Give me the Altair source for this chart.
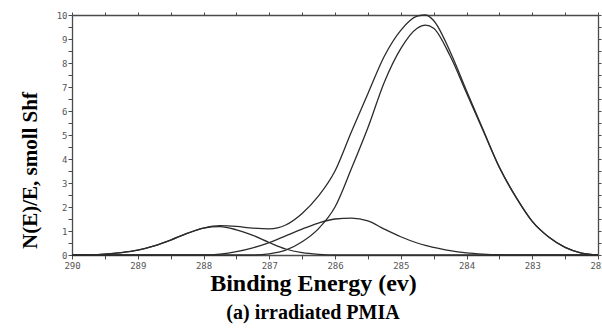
import altair as alt
import pandas as pd

# Binding energy grid (eV)
energy = [290.0, 289.75, 289.5, 289.25, 289.0, 288.75, 288.5, 288.25, 288.0, 287.75,
          287.5, 287.25, 287.0, 286.75, 286.5, 286.25, 286.0, 285.75, 285.5, 285.25,
          285.0, 284.75, 284.625, 284.5, 284.25, 284.0, 283.75, 283.5, 283.25, 283.0,
          282.75, 282.5, 282.25, 282.0]

# component near 288 eV
comp1 = [0.0, 0.01, 0.04, 0.1, 0.2, 0.38, 0.62, 0.9, 1.12, 1.18,
         1.05, 0.82, 0.52, 0.25, 0.1, 0.03, 0.0, 0.0, 0.0, 0.0,
         0.0, 0.0, 0.0, 0.0, 0.0, 0.0, 0.0, 0.0, 0.0, 0.0,
         0.0, 0.0, 0.0, 0.0]
# component near 285.8 eV
comp2 = [0.0, 0.0, 0.0, 0.0, 0.0, 0.0, 0.0, 0.0, 0.0, 0.04,
         0.14, 0.3, 0.52, 0.8, 1.08, 1.33, 1.5, 1.54, 1.42, 1.08,
         0.76, 0.5, 0.4, 0.32, 0.18, 0.09, 0.04, 0.01, 0.0, 0.0,
         0.0, 0.0, 0.0, 0.0]
# main component near 284.6 eV
comp3 = [0.0, 0.0, 0.0, 0.0, 0.0, 0.0, 0.0, 0.0, 0.0, 0.0,
         0.0, 0.0, 0.05, 0.2, 0.55, 1.1, 2.0, 3.6, 5.3, 7.2,
         8.6, 9.45, 9.58, 9.45, 8.3, 6.75, 5.2, 3.65, 2.42, 1.4,
         0.75, 0.32, 0.08, 0.0]
# measured envelope
envelope = [0.0, 0.01, 0.04, 0.1, 0.2, 0.38, 0.62, 0.9, 1.12, 1.22,
            1.19, 1.12, 1.09, 1.25, 1.73, 2.46, 3.5, 5.14, 6.72, 8.28,
            9.36, 9.95, 10.0, 9.77, 8.48, 6.84, 5.24, 3.66, 2.42, 1.4,
            0.75, 0.32, 0.08, 0.0]

x_ticks = [282, 282.5, 283, 283.5, 284, 284.5, 285, 285.5, 286, 286.5,
           287, 287.5, 288, 288.5, 289, 289.5, 290]
y_ticks = [0, 0.5, 1, 1.5, 2, 2.5, 3, 3.5, 4, 4.5, 5, 5.5, 6, 6.5, 7, 7.5,
           8, 8.5, 9, 9.5, 10]

rows = []
for name, vals in [("c1", comp1), ("c2", comp2), ("c3", comp3), ("env", envelope)]:
    for e, v in zip(energy, vals):
        rows.append({"E": e, "v": v, "series": name})
df = pd.DataFrame(rows)

AX = "#4a4a4a"
xscale = alt.Scale(domain=[282, 290], reverse=True, nice=False, zero=False)
yscale = alt.Scale(domain=[0, 10], nice=False, zero=True)

bottom_axis = alt.Axis(
    orient="bottom", values=x_ticks, grid=False,
    labelExpr="datum.value % 1 == 0 ? format(datum.value, 'd') : ''",
    labelFont="DejaVu Sans Mono", labelFontSize=9, labelColor="#555",
    labelPadding=2, labelOverlap=False, labelBound=False, labelFlush=False,
    tickSize=4, tickColor=AX, domainColor=AX, domainWidth=1.3, tickWidth=1,
    title="Binding Energy (ev)", titleFont="Liberation Serif", titleFontSize=24,
    titleFontWeight="bold", titleColor="black", titleX=241, titleY=35,
    titleBaseline="alphabetic", titleAlign="center")

left_axis = alt.Axis(
    orient="left", values=y_ticks, grid=False,
    labelExpr="datum.value % 1 == 0 ? format(datum.value, 'd') : ''",
    labelFont="DejaVu Sans Mono", labelFontSize=9, labelColor="#555",
    labelPadding=1, labelOverlap=False, labelBound=False, labelFlush=False,
    tickSize=4, tickColor=AX, domainColor=AX, domainWidth=1.3, tickWidth=1,
    title="N(E)/E, smoll Shf", titleFont="Liberation Serif", titleFontSize=21,
    titleFontWeight="bold", titleColor="black", titleAngle=-90,
    titleX=-36, titleY=155, titleBaseline="alphabetic", titleAlign="center")

top_axis = alt.Axis(orient="top", values=x_ticks, grid=False, labels=False,
                    tickSize=3, tickColor=AX, domainColor=AX, domainWidth=1.3,
                    title=None)
right_axis = alt.Axis(orient="right", values=y_ticks, grid=False, labels=False,
                      tickSize=3, tickColor=AX, domainColor=AX, domainWidth=1.3,
                      title=None)

lines = alt.Chart(df).mark_line(
    color="#2b2b2b", strokeWidth=1.3, interpolate="monotone"
).encode(
    x=alt.X("E:Q", scale=xscale, axis=bottom_axis),
    y=alt.Y("v:Q", scale=yscale, axis=left_axis),
    detail="series:N",
)

frame = alt.Chart(df).mark_line(strokeOpacity=0).encode(
    x=alt.X("E:Q", scale=xscale, axis=top_axis),
    y=alt.Y("v:Q", scale=yscale, axis=right_axis),
    detail="series:N",
)

chart = alt.layer(lines, frame).resolve_axis(
    x="independent", y="independent"
).properties(
    width=526, height=240,
    autosize=alt.AutoSizeParams(type="none"),
    padding={"left": 72, "top": 15, "right": 4, "bottom": 73},
    title=alt.TitleParams(
        text="(a)   irradiated   PMIA", orient="bottom", anchor="middle",
        font="Liberation Serif", fontSize=20, fontWeight="bold", color="black",
        offset=8, dx=-22),
    background="white",
).configure_view(strokeWidth=0)

chart.save("out.html", embed_options={"renderer": "svg", "actions": False})
